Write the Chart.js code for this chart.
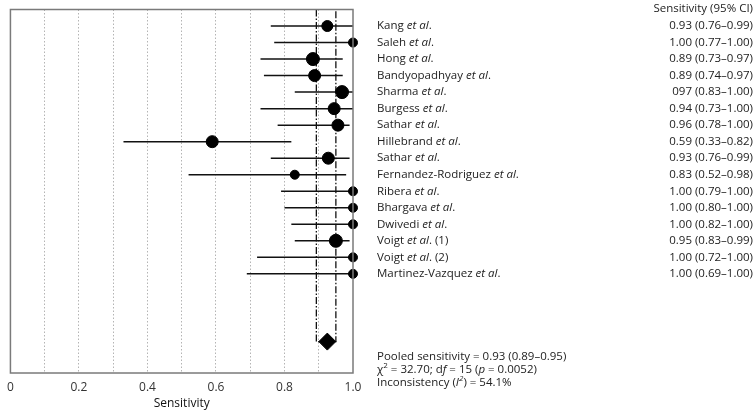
<!DOCTYPE html>
<html>
<head>
<meta charset="utf-8">
<script src="https://cdn.jsdelivr.net/npm/chart.js@4.4.1/dist/chart.umd.min.js"></script>
<style>
html, body { margin: 0; padding: 0; background: #fff; }
#wrap { width: 754px; height: 411px; }
</style>
</head>
<body>
<div id="wrap"><canvas id="forest"></canvas></div>
<script>
// study rows, top to bottom
const studies = [
   "Kang", "Saleh", "Hong", "Bandyopadhyay", "Sharma", "Burgess", "Sathar",
   "Hillebrand", "Sathar", "Fernandez-Rodriguez", "Ribera", "Bhargava",
   "Dwivedi", "Voigt", "Voigt", "Martinez-Vazquez",
]
const studySuffix = ["", "", "", "", "", "", "", "", "", "", "", "", "", " (1)", " (2)", ""]
const sens = [0.925, 1.0, 0.883, 0.888, 0.968, 0.945, 0.956, 0.589, 0.928, 0.83, 1.0, 1.0, 1.0, 0.95, 1.0, 1.0]
const ciLow = [0.76, 0.77, 0.73, 0.74, 0.83, 0.73, 0.78, 0.33, 0.76, 0.52, 0.79, 0.80, 0.82, 0.83, 0.72, 0.69]
const ciHigh = [1.0, 1.0, 0.97, 0.97, 1.0, 1.0, 0.99, 0.82, 0.99, 0.98, 1.0, 1.0, 1.0, 0.99, 1.0, 1.0]
const weightRadius = [5.5, 4.5, 6.5, 6, 6.5, 6, 6, 6, 6, 4.5, 4.5, 4.5, 4.5, 6.5, 4.5, 4.5]
const ciText = [
   "0.93 (0.76–0.99)", "1.00 (0.77–1.00)", "0.89 (0.73–0.97)", "0.89 (0.74–0.97)",
   "097 (0.83–1.00)", "0.94 (0.73–1.00)", "0.96 (0.78–1.00)", "0.59 (0.33–0.82)",
   "0.93 (0.76–0.99)", "0.83 (0.52–0.98)", "1.00 (0.79–1.00)", "1.00 (0.80–1.00)",
   "1.00 (0.82–1.00)", "0.95 (0.83–0.99)", "1.00 (0.72–1.00)", "1.00 (0.69–1.00)",
]
const pooledSens = 0.925
const pooledLow = 0.893
const pooledHigh = 0.95
const pooledRow = 20.1

const FONT = "'Open Sans', 'Noto Sans', sans-serif"
const TXT = 11.5
const rows = studies.map((s, i) => i + 1)

// CI whiskers, one little line dataset per study
const ciSets = studies.map((s, i) => ({
   type: "line",
   data: [{ x: ciLow[i], y: rows[i] }, { x: ciHigh[i], y: rows[i] }],
   borderColor: "#111",
   borderWidth: 1.5,
   pointRadius: 0,
   order: 3,
}))

const rightText = {
   id: "rightText",
   afterDraw(chart) {
      const ctx = chart.ctx
      const ys = chart.scales.y
      const area = chart.chartArea
      const nameX = 377
      const valX = 753

      const rich = (parts, x, y) => {
         parts.forEach(p => {
            ctx.font = (p.it ? "italic " : "") + (p.sup ? "8px " : TXT + "px ") + FONT
            ctx.fillText(p.t, x, p.sup ? y - 4 : y)
            x += ctx.measureText(p.t).width
         })
      }

      ctx.save()
      // frame round the plot
      ctx.strokeStyle = "#7a7a7a"
      ctx.lineWidth = 1.5
      ctx.strokeRect(area.left, area.top, area.right - area.left, area.bottom - area.top)

      ctx.fillStyle = "#222"
      ctx.textBaseline = "middle"
      ctx.textAlign = "right"
      ctx.font = TXT + "px " + FONT
      ctx.fillText("Sensitivity (95% CI)", valX, ys.getPixelForValue(0) - 1)

      studies.forEach((s, i) => {
         const y = ys.getPixelForValue(rows[i])
         ctx.textAlign = "right"
         ctx.font = TXT + "px " + FONT
         ctx.fillText(ciText[i], valX, y)
         ctx.textAlign = "left"
         rich([{ t: s + " " }, { t: "et al", it: true }, { t: "." + studySuffix[i] }], nameX, y)
      })

      ctx.textAlign = "left"
      const y0 = 357
      rich([{ t: "Pooled sensitivity = 0.93 (0.89–0.95)" }], nameX, y0)
      rich([
         { t: "χ" }, { t: "2", sup: true }, { t: " = 32.70; d" }, { t: "f", it: true },
         { t: " = 15 (" }, { t: "p", it: true }, { t: " = 0.0052)" },
      ], nameX, y0 + 13)
      rich([
         { t: "Inconsistency (" }, { t: "I", it: true }, { t: "2", sup: true, it: true }, { t: ") = 54.1%" },
      ], nameX, y0 + 26)
      ctx.restore()
   },
}

new Chart(document.getElementById("forest"), {
   type: "scatter",
   data: {
      datasets: [
         ...ciSets,
         {
            label: "studies",
            data: studies.map((s, i) => ({ x: sens[i], y: rows[i] })),
            backgroundColor: "#000",
            borderColor: "#000",
            pointRadius: weightRadius,
            pointHoverRadius: weightRadius,
            clip: false,
            order: 1,
         },
         {
            type: "line",
            label: "pooled CI",
            data: [
               { x: pooledLow, y: 0 },
               { x: pooledLow, y: pooledRow },
               { x: pooledHigh, y: pooledRow },
               { x: pooledHigh, y: 0 },
            ],
            borderColor: "#111",
            borderWidth: 1.3,
            borderDash: [7, 2, 1.5, 2],
            pointRadius: 0,
            order: 2,
         },
         {
            label: "pooled",
            data: [{ x: pooledSens, y: pooledRow }],
            pointStyle: "rectRot",
            pointRadius: 8.5,
            backgroundColor: "#000",
            borderColor: "#000",
            order: 0,
         },
      ],
   },
   options: {
      responsive: true,
      maintainAspectRatio: false,
      animation: false,
      events: [],
      layout: { padding: { left: 3, right: 401, top: 7, bottom: 0 } },
      plugins: { legend: { display: false }, tooltip: { enabled: false } },
      scales: {
         x: {
            type: "linear",
            min: 0,
            max: 1,
            afterFit: scale => { scale.height = 38 },
            border: { display: false, dash: [1.5, 2] },
            grid: {
               drawTicks: false,
               color: ctx => (ctx.tick.value > 0.001 && ctx.tick.value < 0.999 ? "#b4b4b4" : "rgba(0,0,0,0)"),
               lineWidth: 1,
            },
            ticks: {
               stepSize: 0.1,
               padding: 7,
               color: "#333",
               font: { family: FONT, size: 12 },
               callback: v => {
                  const k = Math.round(v * 10)
                  if (k % 2) return ""
                  return k === 0 ? "0" : (k / 10).toFixed(1)
               },
            },
            title: {
               display: true,
               text: "Sensitivity",
               color: "#111",
               font: { family: FONT, size: 12 },
               padding: { top: 0, bottom: 0 },
            },
         },
         y: {
            type: "linear",
            reverse: true,
            min: 0,
            max: 22,
            display: false,
         },
      },
   },
   plugins: [rightText],
})
</script>
</body>
</html>
